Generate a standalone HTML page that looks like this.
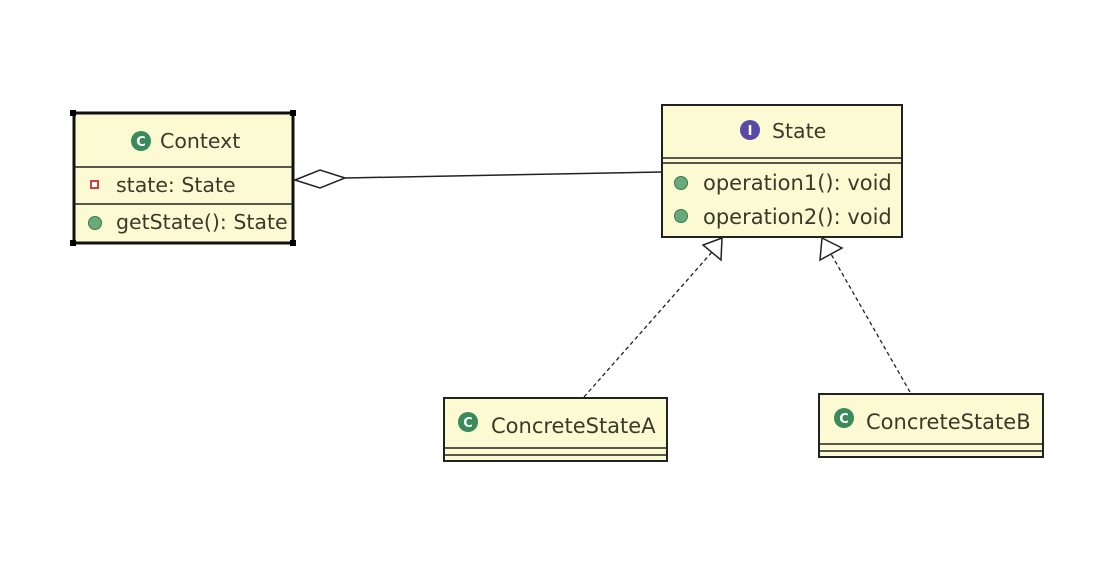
<!DOCTYPE html>
<html><head><meta charset="utf-8"><style>
html,body{margin:0;padding:0;background:#fff;}
svg text{font-family:"DejaVu Sans","Liberation Sans",sans-serif;fill:#3a3a2a;}
</style></head><body>
<svg width="1118" height="558" viewBox="0 0 1118 558" xmlns="http://www.w3.org/2000/svg">
<rect width="1118" height="558" fill="#fff"/>
<!-- Context -->
<rect x="74" y="113" width="219" height="130" fill="#fcfad2" stroke="#111" stroke-width="2"/>
<line x1="74" y1="113" x2="293" y2="113" stroke="#111" stroke-width="3"/>
<line x1="74" y1="243" x2="293" y2="243" stroke="#111" stroke-width="3"/>
<line x1="74" y1="113" x2="74" y2="243" stroke="#111" stroke-width="3"/>
<line x1="293" y1="113" x2="293" y2="243" stroke="#111" stroke-width="3"/>
<rect x="70" y="110" width="6" height="6" fill="#000"/><rect x="290" y="110" width="6" height="6" fill="#000"/>
<rect x="70" y="240" width="6" height="6" fill="#000"/><rect x="290" y="240" width="6" height="6" fill="#000"/>
<line x1="74" y1="167" x2="293" y2="167" stroke="#222" stroke-width="1.5"/>
<line x1="74" y1="204" x2="293" y2="204" stroke="#222" stroke-width="1.5"/>
<circle cx="141" cy="141" r="10" fill="#3a8a5c"/><text x="141" y="146" font-size="13" font-weight="bold" text-anchor="middle" style="fill:#fff">C</text>
<text x="160" y="148" font-size="20.5">Context</text>
<rect x="91" y="181" width="7" height="7" fill="#fff" stroke="#d04040" stroke-width="2"/>
<text x="116" y="192" font-size="20.5">state: State</text>
<circle cx="95" cy="223" r="6.5" fill="#6aaa7a" stroke="#3a7a4a"/>
<text x="116" y="229" font-size="20.5">getState(): State</text>
<!-- aggregation -->
<polygon points="295,180 320,170 345,178 320,188" fill="#fff" stroke="#222" stroke-width="1.5"/>
<polyline points="345,178 662,172" fill="none" stroke="#222" stroke-width="1.5"/>
<!-- State -->
<rect x="662" y="105" width="240" height="132" fill="#fcfad2" stroke="#222" stroke-width="2"/>
<line x1="662" y1="158" x2="902" y2="158" stroke="#222" stroke-width="1.5"/>
<line x1="662" y1="163" x2="902" y2="163" stroke="#222" stroke-width="1.5"/>
<circle cx="750" cy="130" r="10" fill="#5a4aa8"/><text x="750" y="135" font-size="13" font-weight="bold" text-anchor="middle" style="fill:#fff">I</text>
<text x="772" y="138" font-size="20.5">State</text>
<circle cx="681" cy="183" r="6.5" fill="#6aaa7a" stroke="#3a7a4a"/>
<text x="703" y="190" font-size="21">operation1(): void</text>
<circle cx="681" cy="216" r="6.5" fill="#6aaa7a" stroke="#3a7a4a"/>
<text x="703" y="224" font-size="21">operation2(): void</text>
<!-- realization arrows -->
<line x1="584" y1="397" x2="712" y2="252" stroke="#222" stroke-width="1.3" stroke-dasharray="4,3"/>
<polygon points="722,238 703,245 721,260" fill="#fff" stroke="#222" stroke-width="1.5"/>
<line x1="910" y1="392" x2="831" y2="254" stroke="#222" stroke-width="1.3" stroke-dasharray="4,3"/>
<polygon points="822,238 842,248 820,260" fill="#fff" stroke="#222" stroke-width="1.5"/>
<!-- ConcreteStateA -->
<rect x="444" y="398" width="223" height="63" fill="#fcfad2" stroke="#222" stroke-width="2"/>
<line x1="444" y1="448" x2="667" y2="448" stroke="#222" stroke-width="1.5"/>
<line x1="444" y1="455" x2="667" y2="455" stroke="#222" stroke-width="1.5"/>
<circle cx="468" cy="422" r="10" fill="#3a8a5c"/><text x="468" y="427" font-size="13" font-weight="bold" text-anchor="middle" style="fill:#fff">C</text>
<text x="491" y="433" font-size="21">ConcreteStateA</text>
<!-- ConcreteStateB -->
<rect x="819" y="394" width="224" height="63" fill="#fcfad2" stroke="#222" stroke-width="2"/>
<line x1="819" y1="444" x2="1043" y2="444" stroke="#222" stroke-width="1.5"/>
<line x1="819" y1="451" x2="1043" y2="451" stroke="#222" stroke-width="1.5"/>
<circle cx="844" cy="418" r="10" fill="#3a8a5c"/><text x="844" y="423" font-size="13" font-weight="bold" text-anchor="middle" style="fill:#fff">C</text>
<text x="866" y="429" font-size="21">ConcreteStateB</text>
</svg>
</body></html>
